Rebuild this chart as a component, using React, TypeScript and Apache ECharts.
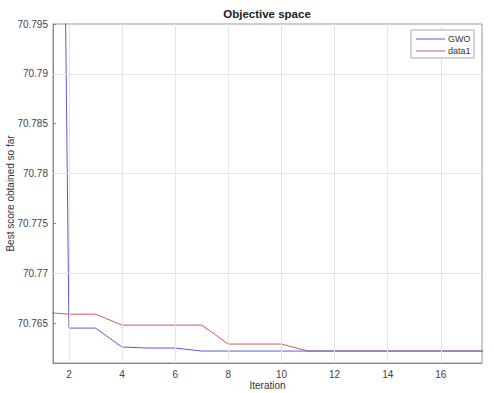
import React, { useEffect, useRef } from "react";
import * as echarts from "echarts";

const iterations = [1, 2, 3, 4, 5, 6, 7, 8, 9, 10, 11, 12, 13, 14, 15, 16, 17, 18];
const gwo = [71.01, 70.7645, 70.7645, 70.7626, 70.7625, 70.7625, 70.7622, 70.7622, 70.7622, 70.7622, 70.7622, 70.7622, 70.7622, 70.7622, 70.7622, 70.7622, 70.7622, 70.7622];
const data1 = [70.7661, 70.7659, 70.7659, 70.7648, 70.7648, 70.7648, 70.7648, 70.7629, 70.7629, 70.7629, 70.7622, 70.7622, 70.7622, 70.7622, 70.7622, 70.7622, 70.7622, 70.7622];
const xTicks = [2, 4, 6, 8, 10, 12, 14, 16];
const yTicks = [70.765, 70.77, 70.775, 70.78, 70.785, 70.79, 70.795];
const legendNames = ["GWO", "data1"];

const FONT = "Liberation Sans";
const BLUE = "#5c5cc8";
const RED = "#cc5a5a";

export default function App() {
  const ref = useRef<HTMLDivElement>(null);
  useEffect(() => {
    const chart = echarts.init(ref.current!, null, { renderer: "svg" });
    const gridLines = [
      ...xTicks.map((v) => ({ xAxis: v })),
      ...yTicks.map((v) => ({ yAxis: v })),
    ];
    const legendColors = [BLUE, RED];
    const legendGraphics: any[] = [
      {
        type: "rect",
        shape: { x: 411, y: 30, width: 63, height: 28 },
        style: { fill: "#fff", stroke: "#aaa", lineWidth: 1 },
        z: 10,
      },
    ];
    legendNames.forEach((n, i) => {
      const y = 39 + i * 12;
      legendGraphics.push({
        type: "line",
        shape: { x1: 416, y1: y, x2: 445, y2: y },
        style: { stroke: legendColors[i], lineWidth: 1 },
        z: 11,
      });
      legendGraphics.push({
        type: "text",
        x: 448,
        y: y,
        style: {
          text: n,
          fontFamily: FONT,
          fontSize: 9,
          fill: "#333",
          verticalAlign: "middle",
          align: "left",
        },
        z: 11,
      });
    });
    chart.setOption({
      animation: false,
      backgroundColor: "#ffffff",
      color: ["#e4e4e4", BLUE, RED],
      title: {
        text: "Objective space",
        left: 267,
        top: 8,
        padding: 0,
        textAlign: "center",
        textStyle: { fontFamily: FONT, fontSize: 11.5, fontWeight: "bold", color: "#222" },
      },
      graphic: legendGraphics,
      grid: {
        left: 53,
        right: 12,
        top: 24,
        bottom: 30,
        containLabel: false,
        outerBoundsMode: "none",
        show: true,
        borderColor: "#999",
        borderWidth: 1,
        backgroundColor: "transparent",
      },
      xAxis: {
        type: "value",
        min: 1.4,
        max: 17.55,
        name: "Iteration",
        nameLocation: "middle",
        nameGap: 17,
        nameMoveOverlap: false,
        nameTextStyle: { fontFamily: FONT, fontSize: 10, color: "#333", verticalAlign: "top" },
        axisLine: { show: true, lineStyle: { color: "#888" } },
        axisTick: { show: true, inside: true, length: 3, customValues: xTicks, lineStyle: { color: "#888" } },
        axisLabel: { fontFamily: FONT, fontSize: 10, color: "#444", margin: 6, customValues: xTicks },
        splitLine: { show: false },
      },
      yAxis: {
        type: "value",
        min: 70.761,
        max: 70.795,
        name: "Best score obtained so far",
        nameLocation: "middle",
        nameGap: 38,
        nameMoveOverlap: false,
        nameTextStyle: { fontFamily: FONT, fontSize: 10, color: "#333" },
        axisLine: { show: true, lineStyle: { color: "#888" } },
        axisTick: { show: true, inside: true, length: 3, customValues: yTicks, lineStyle: { color: "#888" } },
        axisLabel: {
          fontFamily: FONT,
          fontSize: 10,
          color: "#444",
          margin: 5,
          customValues: yTicks,
          formatter: (v: number) => String(parseFloat(v.toFixed(3))),
        },
        splitLine: { show: false },
      },
      series: [
        {
          name: "grid",
          type: "line",
          data: [],
          z: 1,
          silent: true,
          markLine: {
            silent: true,
            symbol: ["none", "none"],
            label: { show: false },
            lineStyle: { color: "#e4e4e4", width: 1, type: "solid" },
            emphasis: { disabled: true },
            data: gridLines,
          },
        },
        {
          name: "GWO",
          type: "line",
          z: 3,
          showSymbol: false,
          data: iterations.map((x, i) => [x, gwo[i]]),
          lineStyle: { color: BLUE, width: 1 },
          itemStyle: { color: BLUE },
        },
        {
          name: "data1",
          type: "line",
          z: 2,
          showSymbol: false,
          data: iterations.map((x, i) => [x, data1[i]]),
          lineStyle: { color: RED, width: 1 },
          itemStyle: { color: RED },
        },
      ],
    });
    return () => chart.dispose();
  }, []);
  return <div ref={ref} style={{ width: 494, height: 393, position: "absolute", left: 0, top: 0 }} />;
}
